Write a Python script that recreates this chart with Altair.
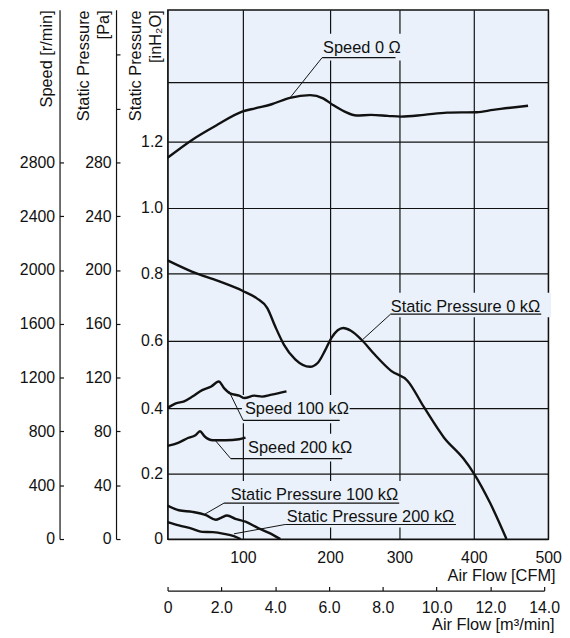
import altair as alt
import pandas as pd

FONT = "Liberation Sans, Arial, sans-serif"
BG = "#eaf1fa"
INK = "#111111"
W, H = 384, 534

# ---- axis grids / ticks ----
cfm_grid = [0, 100, 200, 300, 400, 500]
cfm_px = [0, 76, 164, 234, 309, 384]          # scale range breakpoints (grid spacing in the original)
inh_domain = [0, 0.2, 0.4, 0.6, 0.8, 1.0, 1.2, 1.4, 1.6]
inh_px = [534, 468, 402, 334, 266, 200, 133, 73, 0]
inh_grid = [0, 0.2, 0.4, 0.6, 0.8, 1.0, 1.2, 1.4]
speed_ticks = [0, 400, 800, 1200, 1600, 2000, 2400, 2800]
pa_ticks = [0, 40, 80, 120, 160, 200, 240, 280, 320, 360]
m3_ticks = [0, 2, 4, 6, 8, 10, 12, 14]
SPEED_TOP = 3934
PA_TOP = 393.4

# ---- static pressure curves [inH2O] vs air flow [CFM] ----
sp0_cfm = [0, 33, 68, 100, 116, 128, 137, 147, 160, 177, 186, 194, 202, 219, 230, 245, 264, 288, 311, 333, 360, 386, 400, 422, 444]
sp0_val = [0.840, 0.805, 0.777, 0.748, 0.726, 0.697, 0.643, 0.589, 0.545, 0.523, 0.535, 0.570, 0.609, 0.638, 0.630, 0.604, 0.560, 0.511, 0.481, 0.403, 0.310, 0.246, 0.201, 0.110, 0.0]
sp100_cfm = [0, 15, 33, 51, 64, 71, 79, 90, 103, 118, 130, 143]
sp100_val = [0.102, 0.088, 0.083, 0.073, 0.059, 0.065, 0.072, 0.062, 0.053, 0.033, 0.019, 0.0]
sp200_cfm = [0, 15, 33, 46, 60, 75, 88, 97]
sp200_val = [0.052, 0.042, 0.031, 0.022, 0.021, 0.016, 0.009, 0.0]

# ---- speed curves [r/min] vs air flow [CFM] ----
spd0_cfm = [0, 33, 66, 99, 114, 133, 154, 177, 192, 204, 221, 238, 259, 283, 302, 333, 364, 404, 426, 473]
spd0_val = [2834, 2969, 3079, 3177, 3202, 3232, 3280, 3300, 3276, 3227, 3177, 3148, 3153, 3146, 3140, 3153, 3170, 3173, 3190, 3221]
spd100_cfm = [0, 11, 22, 33, 46, 58, 68, 75, 83, 95, 102, 113, 122, 133, 150]
spd100_val = [975, 1009, 1024, 1059, 1107, 1134, 1171, 1122, 1083, 1066, 1048, 1066, 1059, 1073, 1098]
spd200_cfm = [0, 14, 27, 37, 43, 49, 60, 77, 95, 103]
spd200_val = [692, 715, 751, 771, 801, 764, 734, 734, 742, 754]

# ---- annotations (in CFM / inH2O coordinates) ----
ann_text = ["Speed 0 \u03a9", "Static Pressure 0 k\u03a9", "Speed 100 k\u03a9", "Speed 200 k\u03a9",
            "Static Pressure 100 k\u03a9", "Static Pressure 200 k\u03a9"]
ann_text_x = [192, 287.5, 102.3, 106, 83.8, 150.3]
ann_text_y = [1.482, 0.687, 0.383, 0.264, 0.120, 0.0515]
ann_line_x1 = [190.9, 287.1, 100.3, 83.8, 75, 148.5]
ann_line_x2 = [294.3, 490.7, 213.9, 217.6, 299.6, 376]
ann_line_y = [1.468, 0.679, 0.363, 0.246, 0.110, 0.0445]
ann_tip_x = [154.2, 247.1, 81.6, 63.2, 48.7, 88.2]
ann_tip_y = [1.348, 0.604, 0.450, 0.302, 0.075, 0.016]


def long(pairs):
    rows = []
    for name, xs_, ys_ in pairs:
        for a, b in zip(xs_, ys_):
            rows.append({"series": name, "cfm": a, "v": b})
    return pd.DataFrame(rows)


sp_df = long([("sp0", sp0_cfm, sp0_val), ("sp100", sp100_cfm, sp100_val), ("sp200", sp200_cfm, sp200_val)])
spd_df = long([("s0", spd0_cfm, spd0_val), ("s100", spd100_cfm, spd100_val), ("s200", spd200_cfm, spd200_val)])
ann_df = pd.DataFrame({"t": ann_text, "tx": ann_text_x, "ty": ann_text_y, "x1": ann_line_x1,
                       "x2": ann_line_x2, "ly": ann_line_y, "px": ann_tip_x, "py": ann_tip_y})


def xs():
    return alt.Scale(domain=cfm_grid, range=cfm_px, nice=False, zero=False)


def ys():
    return alt.Scale(domain=inh_domain, range=inh_px, nice=False, zero=False)


x_axis = alt.Axis(orient="bottom", values=cfm_grid, grid=True, gridColor=INK, gridWidth=1.2,
                  domain=False, ticks=False, tickSize=0, labelPadding=11, labelFlush=False,
                  labelOverlap=False, labelExpr="datum.value == 0 ? '' : datum.label",
                  title="Air Flow [CFM]", titleAlign="right", titleBaseline="alphabetic",
                  titleX=391, titleY=42)
y_axis = alt.Axis(orient="left", values=inh_grid, grid=True, gridColor=INK, gridWidth=1.2,
                  domain=False, ticks=False, tickSize=0, labelPadding=5, labelFlush=False,
                  labelOverlap=False,
                  labelExpr="datum.value == 0 ? '0' : (datum.value > 1.3 ? '' : format(datum.value, '.1f'))",
                  title=["Static Pressure", "[inH\u2082O]"], titleAngle=270, titleAlign="right",
                  titleBaseline="alphabetic", titleX=-27, titleY=0, titleLineHeight=20)

base_ann = alt.Chart(ann_df)
bg_rects = base_ann.mark_rect(fill=BG, xOffset=-3, x2Offset=10, yOffset=-19, y2Offset=3).encode(
    x=alt.X("tx:Q", scale=xs(), axis=None), x2="x2:Q",
    y=alt.Y("ty:Q", scale=ys(), axis=None), y2="ly:Q")
sp_lines = alt.Chart(sp_df).mark_line(color=INK, strokeWidth=2.4, interpolate="monotone").encode(
    x=alt.X("cfm:Q", scale=xs(), axis=x_axis),
    y=alt.Y("v:Q", scale=ys(), axis=y_axis),
    detail="series:N")
leaders = base_ann.mark_rule(color=INK, strokeWidth=1).encode(
    x=alt.X("px:Q", scale=xs(), axis=None), y=alt.Y("py:Q", scale=ys(), axis=None),
    x2="x1:Q", y2="ly:Q")
underlines = base_ann.mark_rule(color=INK, strokeWidth=1.2).encode(
    x=alt.X("x1:Q", scale=xs(), axis=None), x2="x2:Q",
    y=alt.Y("ly:Q", scale=ys(), axis=None))
labels = base_ann.mark_text(align="left", baseline="alphabetic", font=FONT, fontSize=16.5, color=INK).encode(
    x=alt.X("tx:Q", scale=xs(), axis=None), y=alt.Y("ty:Q", scale=ys(), axis=None), text="t:N")

# speed curves with the Speed axis
speed = alt.Chart(spd_df).mark_line(color=INK, strokeWidth=2.4, interpolate="monotone").encode(
    x=alt.X("cfm:Q", scale=xs(), axis=None),
    y=alt.Y("v:Q", scale=alt.Scale(domain=[0, SPEED_TOP], nice=False, zero=False),
            axis=alt.Axis(orient="left", offset=109, values=speed_ticks, grid=False, domain=True,
                          domainColor=INK, domainWidth=1.2, ticks=False, tickSize=0, labelPadding=5,
                          labelFlush=False, labelOverlap=False, format="d",
                          title="Speed [r/min]", titleAngle=270, titleAlign="right",
                          titleBaseline="alphabetic", titleX=-8, titleY=0)),
    detail="series:N")


def tick_only(values, top, orient, offset, channel, rng=None):
    df = pd.DataFrame({"v": values})
    ax = alt.Axis(orient=orient, offset=offset, values=values, grid=False, domain=False, ticks=True,
                  tickSize=4, tickColor=INK, tickWidth=1.2, labels=False, title=None)
    if channel == "y":
        return alt.Chart(df).mark_point(opacity=0).encode(
            y=alt.Y("v:Q", scale=alt.Scale(domain=[0, top], nice=False, zero=False), axis=ax))
    return alt.Chart(df).mark_point(opacity=0).encode(
        x=alt.X("v:Q", scale=alt.Scale(domain=[0, top], range=rng, nice=False, zero=False), axis=ax))


# ticks point inward: a tick-only axis placed 4px closer to the plot
speed_ticks_layer = tick_only(speed_ticks, SPEED_TOP, "left", 105, "y")

pa = alt.Chart(pd.DataFrame({"v": pa_ticks})).mark_point(opacity=0).encode(
    y=alt.Y("v:Q", scale=alt.Scale(domain=[0, PA_TOP], nice=False, zero=False),
            axis=alt.Axis(orient="left", offset=52, values=pa_ticks, grid=False, domain=True,
                          domainColor=INK, domainWidth=1.2, ticks=False, tickSize=0, labelPadding=5,
                          labelFlush=False, labelOverlap=False,
                          labelExpr="datum.value > 300 ? '' : datum.label",
                          title=["Static Pressure", "[Pa]"], titleAngle=270, titleAlign="right",
                          titleBaseline="alphabetic", titleX=-28, titleY=0, titleLineHeight=20)))
pa_ticks_layer = tick_only(pa_ticks, PA_TOP, "left", 48, "y")

m3 = alt.Chart(pd.DataFrame({"v": m3_ticks})).mark_point(opacity=0).encode(
    x=alt.X("v:Q", scale=alt.Scale(domain=[0, 14], range=[0, 380], nice=False, zero=False),
            axis=alt.Axis(orient="bottom", offset=52, values=m3_ticks, grid=False, domain=True,
                          domainColor=INK, domainWidth=1.2, ticks=False, tickSize=0, labelPadding=9,
                          labelFlush=False, labelOverlap=False,
                          labelExpr="datum.value == 0 ? '0' : format(datum.value, '.1f')",
                          title="Air Flow [m\u00b3/min]", titleAlign="right", titleBaseline="alphabetic",
                          titleX=390, titleY=39)))
m3_ticks_layer = tick_only(m3_ticks, 14, "bottom", 48, "x", rng=[0, 380])

chart = alt.layer(bg_rects, sp_lines, leaders, underlines, labels, speed, speed_ticks_layer,
                  pa, pa_ticks_layer, m3, m3_ticks_layer).resolve_scale(
    x="independent", y="independent"
).properties(
    width=W, height=H, padding={"left": 11, "top": -2, "right": 0, "bottom": 0}
).configure_axis(
    labelFont=FONT, titleFont=FONT, labelFontSize=16, titleFontSize=16.5,
    labelColor=INK, titleColor=INK, titleFontWeight="normal"
).configure_view(fill=BG, stroke=INK, strokeWidth=1.3)

chart.save("out.html", embed_options={"renderer": "svg", "actions": False})
